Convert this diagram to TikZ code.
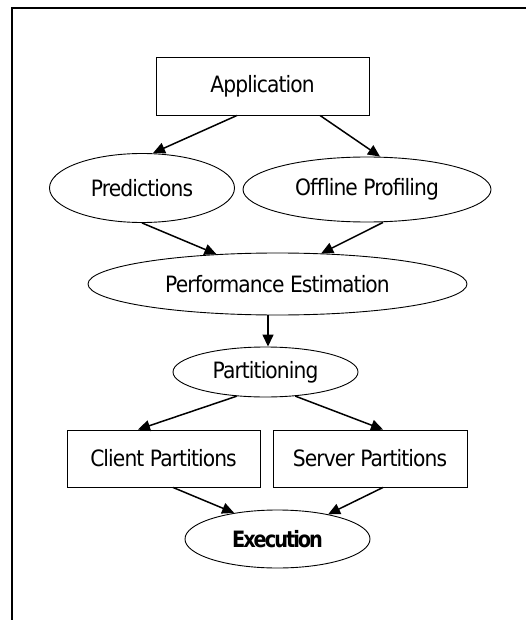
\documentclass[tikz,border=0pt]{standalone}
\usepackage{fontspec}
\setmainfont{DejaVu Sans}[FakeStretch=0.9, LetterSpace=-4,
  BoldFeatures={FakeStretch=0.86, LetterSpace=-9}]
\usetikzlibrary{shapes.geometric,arrows.meta}

\begin{document}
\begin{tikzpicture}[x=1pt,y=-1pt,
  every node/.style={font=\fontsize{22.5}{26}\selectfont, inner sep=0pt, line width=0.9pt},
  box/.style={draw, rectangle},
  oval/.style={draw, ellipse},
  arr/.style={line width=1.5pt, -{Triangle[length=12pt,width=11pt]}}]
\useasboundingbox (0,0) rectangle (526,620);

% open frame along the top and left edges
\draw[line width=2.2pt] (526,8) -- (12,8) -- (12,620);

% nodes
\node[box,  minimum width=213pt, minimum height=58pt] (app)    at (262.5,86)  {Application};
\node[oval, minimum width=185pt, minimum height=69pt] (pred)   at (142,188)   {Predictions};
\node[oval, minimum width=248pt, minimum height=65pt] (off)    at (367,189.5) {Offline Profiling};
\node[oval, minimum width=379pt, minimum height=62pt] (perf)   at (277.5,284) {Performance Estimation};
\node[oval, minimum width=185pt, minimum height=50pt] (part)   at (265.5,372) {Partitioning};
\node[box,  minimum width=193pt, minimum height=57pt] (client) at (163.5,458.5) {Client Partitions};
\node[box,  minimum width=194pt, minimum height=57pt] (server) at (370,458.5)   {Server Partitions};
\node[oval, minimum width=185pt, minimum height=58pt] (exec)   at (277.5,539) {\bfseries Execution};

% connectors
\draw[arr] ([xshift=-25.5pt]app.south) -- ([xshift=11pt]pred.north);
\draw[arr] ([xshift=57.5pt]app.south) -- ([xshift=13pt]off.north);
\draw[arr] (pred.south) -- (perf.154);
\draw[arr] ([xshift=16pt]off.south) -- (perf.35);
\coordinate (pdrop) at ([xshift=-9.5pt]perf.south);
\draw[arr] (pdrop) -- (pdrop |- part.north);
\draw[arr] (part.220) -- ([xshift=-25.5pt]client.north);
\draw[arr] (part.321) -- ([xshift=13pt]server.north);
\draw[arr] ([xshift=9.5pt]client.south) -- (exec.149);
\draw[arr] ([xshift=13pt]server.south) -- (exec.26);
\end{tikzpicture}
\end{document}
